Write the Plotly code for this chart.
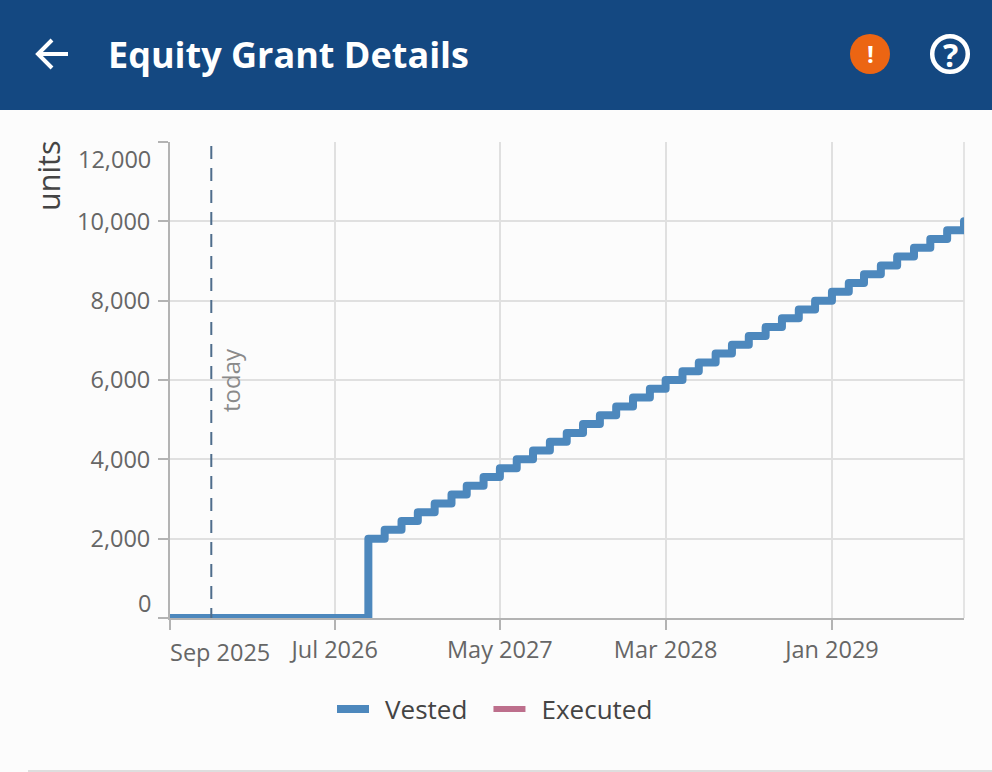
import plotly.graph_objects as go

dates = ["2025-09-01", "2026-09-01", "2026-10-01", "2026-11-01", "2026-12-01", "2027-01-01", "2027-02-01",
         "2027-03-01", "2027-04-01", "2027-05-01", "2027-06-01", "2027-07-01", "2027-08-01", "2027-09-01",
         "2027-10-01", "2027-11-01", "2027-12-01", "2028-01-01", "2028-02-01", "2028-03-01", "2028-04-01",
         "2028-05-01", "2028-06-01", "2028-07-01", "2028-08-01", "2028-09-01", "2028-10-01", "2028-11-01",
         "2028-12-01", "2029-01-01", "2029-02-01", "2029-03-01", "2029-04-01", "2029-05-01", "2029-06-01",
         "2029-07-01", "2029-08-01", "2029-09-01"]
vested = [0, 2000, 2222, 2444, 2667, 2889, 3111, 3333, 3556, 3778, 4000, 4222, 4444, 4667, 4889, 5111,
          5333, 5556, 5778, 6000, 6222, 6444, 6667, 6889, 7111, 7333, 7556, 7778, 8000, 8222, 8444, 8667,
          8889, 9111, 9333, 9556, 9778, 10000]
executed_dates = ["2025-09-01", "2026-09-01"]
executed = [0, 0]
y_ticks = [0, 2000, 4000, 6000, 8000, 10000, 12000]
x_ticks = ["2025-09-01", "2026-07-01", "2027-05-01", "2028-03-01", "2029-01-01"]
x_labels = ["Sep 2025", "Jul 2026", "May 2027", "Mar 2028", "Jan 2029"]
today = "2025-11-16"

FONT = "Open Sans"
W, H = 992, 772
L, R, T, B = 170, 964, 142, 618


def px(x):
    return (x - L) / (R - L)


def py(y):
    return (B - y) / (B - T)


fig = go.Figure()
fig.add_trace(go.Scatter(x=executed_dates, y=executed, name="\u00a0\u2009Executed", mode="lines", legendrank=2,
                         line=dict(color="#bd6f8c", width=6, shape="hv")))
fig.add_trace(go.Scatter(x=dates, y=vested, name="\u00a0\u2009Vested\u00a0\u00a0\u200a", mode="lines", legendrank=1,
                         line=dict(color="#4d88bd", width=8, shape="hv")))

shapes = [
    dict(type="rect", xref="paper", yref="paper", x0=px(0), x1=px(W), y0=py(0), y1=py(110),
         fillcolor="#144881", line_width=0, layer="above"),
    dict(type="path", xref="paper", yref="paper",
         path=f"M {px(68)} {py(54)} L {px(38)} {py(54)} M {px(52)} {py(40)} L {px(38)} {py(54)} L {px(52)} {py(68)}",
         line=dict(color="white", width=4), layer="above"),
    dict(type="circle", xref="paper", yref="paper", x0=px(850), x1=px(890), y0=py(74), y1=py(34),
         fillcolor="#ec6513", line_width=0, layer="above"),
    dict(type="circle", xref="paper", yref="paper", x0=px(932.2), x1=px(967.8), y0=py(71.8), y1=py(36.2),
         line=dict(color="white", width=4.5), layer="above"),
    dict(type="line", xref="paper", yref="paper", x0=px(28), x1=px(W), y0=py(771), y1=py(771),
         line=dict(color="#dedede", width=2)),
    dict(type="line", xref="paper", yref="paper", x0=1, x1=1, y0=0, y1=1,
         line=dict(color="#e4e4e4", width=2), layer="below"),
    dict(type="line", xref="x", yref="y", x0=today, x1=today, y0=11900, y1=0,
         line=dict(color="#4f6d8c", width=2, dash="13px,9px"), layer="above"),
]


def label(text, x, y, size, color, anchor="center", angle=0, weight=None):
    return dict(text=text, xref="paper", yref="paper", x=px(x), y=py(y), showarrow=False,
                xanchor=anchor, yanchor="middle", textangle=angle,
                font=dict(family=FONT, size=size, color=color, weight=weight))


annotations = [
    label("Equity Grant Details", 106, 54, 36, "white", anchor="left", weight=700),
    label("!", 870, 53, 24, "white", weight=700),
    label("?", 950, 54, 32, "white", weight=700),
    label("units", 48, 176, 30.5, "#444444", angle=-90),
    label("today", 230, 380, 24, "#8a8a8a", angle=-90),
    label(f"{y_ticks[0]:,}", 153, 603, 23.5, "#666666", anchor="right"),
    label(f"{y_ticks[-1]:,}", 153, 159, 23.5, "#666666", anchor="right"),
    label(x_labels[0], 168, 652, 23.5, "#666666", anchor="left"),
]

fig.update_layout(
    width=W, height=H, margin=dict(l=L, r=W - R, t=T, b=H - B, pad=0),
    paper_bgcolor="#fcfcfc", plot_bgcolor="#fcfcfc",
    font=dict(family=FONT, size=23, color="#666666"),
    shapes=shapes, annotations=annotations,
    showlegend=True,
    legend=dict(orientation="h", x=px(332), xanchor="left", y=py(709), yanchor="middle",
                itemwidth=32,
                font=dict(family=FONT, size=26, color="#444444"), bgcolor="rgba(0,0,0,0)"),
    xaxis=dict(type="date", range=["2025-09-01", "2029-09-01"], tickmode="array", tickvals=x_ticks,
               ticktext=[""] + x_labels[1:], ticks="outside", ticklen=10, tickwidth=2, tickcolor="#b3b3b3",
               showline=True, linecolor="#b3b3b3", linewidth=2, gridcolor="#e0e0e0", gridwidth=2,
               mirror=False, zeroline=False, tickfont=dict(size=23.5, color="#666666")),
    yaxis=dict(range=[0, 12000], tickmode="array", tickvals=y_ticks,
               ticktext=[""] + [f"{v:,}" for v in y_ticks[1:-1]] + [""], ticks="outside", ticklen=10,
               tickwidth=2, tickcolor="#b3b3b3", showline=True, linecolor="#b3b3b3", linewidth=2,
               ticklabelstandoff=3,
               gridcolor="#e0e0e0", gridwidth=2, zeroline=False, tickfont=dict(size=23.5, color="#666666")),
)

post = """
document.body.style.margin='0';
var s=document.createElement('style');
s.textContent='.scatterlayer .js-line{stroke-linejoin:round !important;stroke-linecap:round !important;}';
document.head.appendChild(s);
"""
fig.write_html("out.html", post_script=post, config={"displayModeBar": False})
